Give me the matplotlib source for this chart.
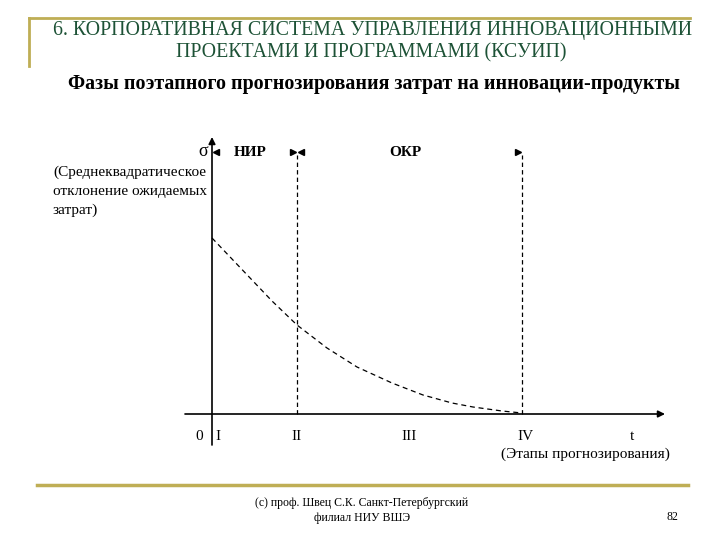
import matplotlib
matplotlib.use("Agg")
import matplotlib.pyplot as plt

plt.rcParams['font.family'] = ['Liberation Serif', 'DejaVu Serif']

# slide texts
title_lines = ["6. КОРПОРАТИВНАЯ СИСТЕМА УПРАВЛЕНИЯ ИННОВАЦИОННЫМИ",
               "ПРОЕКТАМИ И ПРОГРАММАМИ (КСУИП)"]
subtitle = "Фазы поэтапного прогнозирования затрат на инновации-продукты"
ylabel_lines = ["(Среднеквадратическое", "отклонение ожидаемых", "затрат)"]
xlabel = "(Этапы прогнозирования)"
footer_lines = ["(c) проф. Швец С.К. Санкт-Петербургский", "филиал НИУ ВШЭ"]
page_no = "82"

# diagram data (t = forecasting time, sigma = std deviation of expected costs)
stage_labels = ["I", "II", "III", "IV"]
stage_t = [0, 85, 197, 310]
phase_names = ["НИР", "ОКР"]
phase_start = [0, 85]
phase_end = [85, 310]
curve_t = [0, 20, 40, 60, 85, 115, 145, 180, 211, 240, 261, 290, 310]
curve_sigma = [176, 155, 134, 113, 89, 66, 47, 31, 19, 11, 7, 3, 1]

gold = "#bfae55"
green = "#1d5236"

fig = plt.figure(figsize=(7.2, 5.4), dpi=100)

# slide frame in pixel coordinates
bg = fig.add_axes([0, 0, 1, 1])
bg.set_xlim(0, 720)
bg.set_ylim(540, 0)
bg.axis("off")
bg.plot([29, 690], [18, 18], color=gold, lw=2)
bg.plot([29, 29], [18, 66], color=gold, lw=2)
bg.plot([37, 688], [485, 485], color=gold, lw=2.5)
bg.text(373, 31, title_lines[0], ha="center", va="center", fontsize=14.3, color=green)
bg.text(371, 53, title_lines[1], ha="center", va="center", fontsize=14.3, color=green)
bg.text(374, 84, subtitle, ha="center", va="center", fontsize=14.4, fontweight="bold")
for i, s in enumerate(ylabel_lines):
    bg.text(53, 172 + i * 19, s, ha="left", va="center", fontsize=11)
for i, s in enumerate(footer_lines):
    bg.text(362, 503 + i * 15, s, ha="center", va="center", fontsize=8.5)
bg.text(672, 517, page_no, ha="center", va="center", fontsize=8.5)

# diagram axes: origin at pixel (212, 414), 1 data unit = 1 pixel
ax = fig.add_axes([185 / 720, 95 / 540, 480 / 720, 308 / 540])
ax.set_xlim(-27, 453)
ax.set_ylim(-31, 277)
ax.axis("off")

ax.annotate("", xy=(453, 0), xytext=(-27, 0),
            arrowprops=dict(arrowstyle="-|>", lw=1.2, color="black",
                            mutation_scale=10, shrinkA=0, shrinkB=0))
ax.annotate("", xy=(0, 277), xytext=(0, -31),
            arrowprops=dict(arrowstyle="-|>", lw=1.2, color="black",
                            mutation_scale=10, shrinkA=0, shrinkB=0))

for t in phase_end:
    ax.plot([t, t], [0, 259], ls=(0, (3.5, 2.5)), lw=0.9, color="black")

ax.plot(curve_t, curve_sigma, ls=(0, (4, 3)), lw=0.9, color="black")

# phase arrows and names
for name, a, b in zip(phase_names, phase_start, phase_end):
    ax.plot(a + 4, 262, marker="<", ms=4, color="black")
    ax.plot(b - 4, 262, marker=">", ms=4, color="black")
    ax.text((a + b) / 2 - 4, 262, name,
            ha="center", va="center", fontsize=11, fontweight="bold")

ax.text(-9, 263, "σ", ha="center", va="center", fontsize=13)

ax.text(-13, -22, "0", ha="center", va="center", fontsize=11)
for lab, t in zip(stage_labels, stage_t):
    ax.text(t + (6 if t == 0 else 0) + (3 if lab == "IV" else 0), -22, lab,
            ha="center", va="center", fontsize=11)
ax.text(420, -22, "t", ha="center", va="center", fontsize=11)
ax.text(373, -40, xlabel, ha="center", va="center", fontsize=11, clip_on=False)

fig.savefig("out.png", dpi=100)
